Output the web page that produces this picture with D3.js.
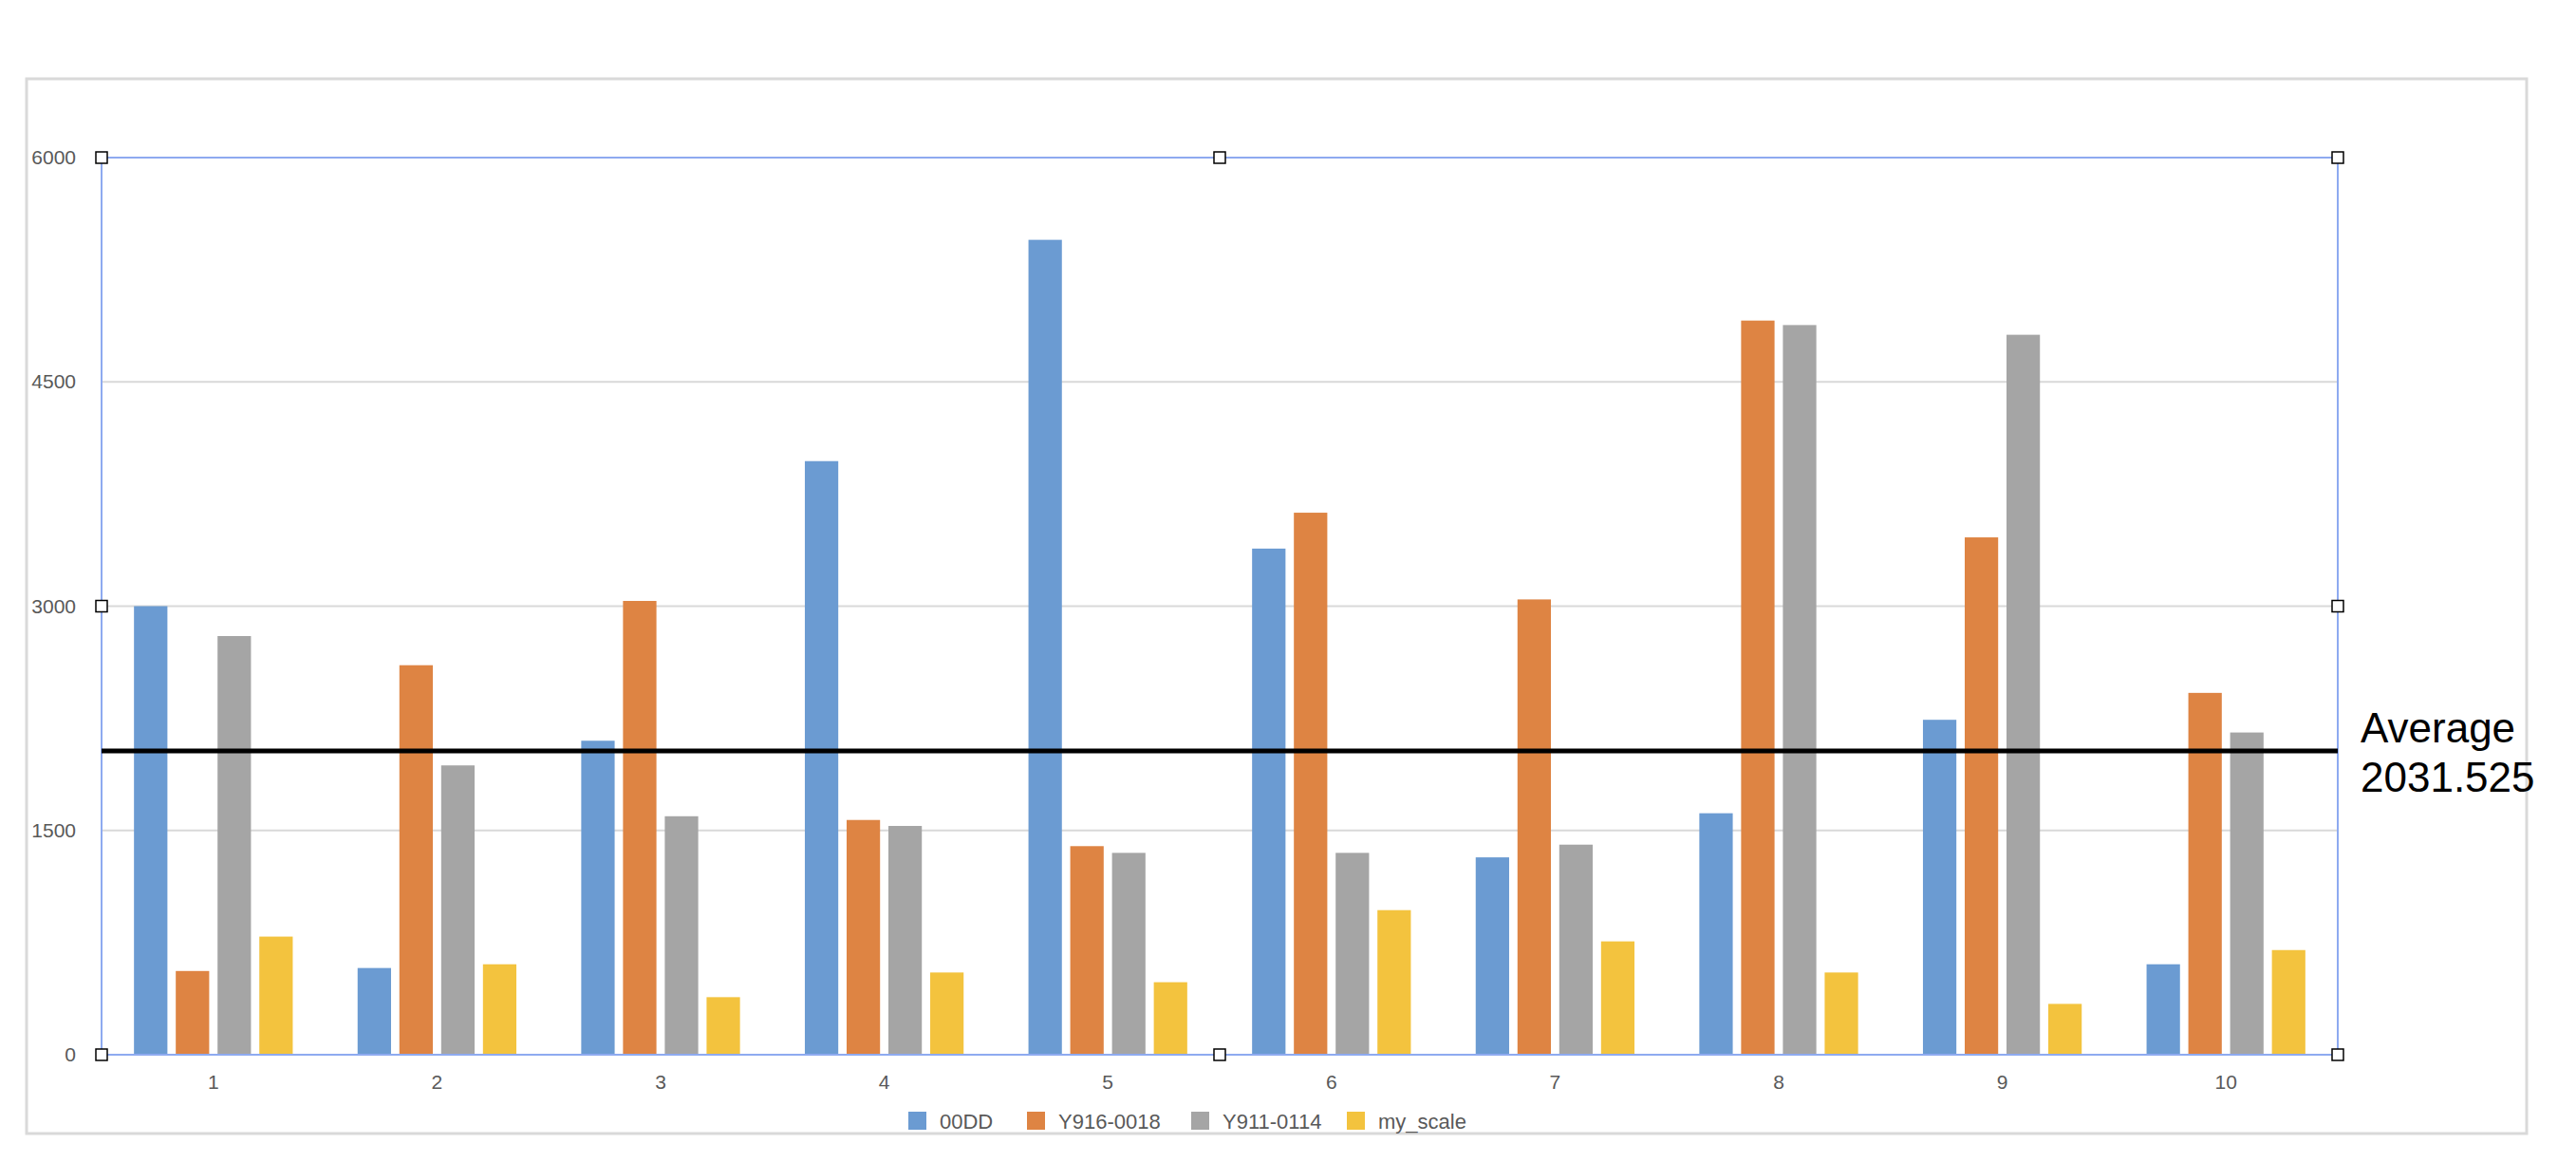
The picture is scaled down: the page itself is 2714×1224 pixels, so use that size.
<!DOCTYPE html>
<html>
<head>
<meta charset="utf-8">
<script src="https://cdn.jsdelivr.net/npm/d3@7"></script>
<style>
  body { margin: 0; background: #fff; }
  text { font-family: "Liberation Sans", Arial, sans-serif; }
</style>
</head>
<body>
<div id="canvas"></div>
<script>
/* DATA */
const categories = ["1", "2", "3", "4", "5", "6", "7", "8", "9", "10"];
const seriesNames = ["00DD", "Y916-0018", "Y911-0114", "my_scale"];
const s00DD = [3000, 580, 2100, 3970, 5450, 3385, 1320, 1615, 2240, 605];
const sY916 = [560, 2605, 3035, 1570, 1395, 3625, 3045, 4910, 3460, 2420];
const sY911 = [2800, 1935, 1595, 1530, 1350, 1350, 1405, 4880, 4815, 2155];
const sScale = [790, 605, 385, 550, 485, 967, 758, 550, 340, 700];
const yTicks = [0, 1500, 3000, 4500, 6000];
const average = 2031.525;
const colors = ["#6b9bd2", "#de8443", "#a5a5a5", "#f3c33e"];

const width = 2714, height = 1224;
const plotLeft = 107, plotRight = 2463, plotTop = 166, plotBottom = 1111;

const svg = d3.select("#canvas").append("svg")
    .attr("width", width).attr("height", height);

/* OUTER FRAME */
svg.append("rect")
    .attr("x", 28).attr("y", 83).attr("width", 2634).attr("height", 1111)
    .attr("fill", "none").attr("stroke", "#d9d9d9").attr("stroke-width", 3);

/* SCALES */
const x0 = d3.scaleBand().domain(categories).range([plotLeft, plotRight]).paddingInner(0.29).paddingOuter(0.145);
const x1 = d3.scaleBand().domain(seriesNames).range([0, x0.bandwidth()]).paddingInner(0.2);
const y = d3.scaleLinear().domain([0, 6000]).range([plotBottom, plotTop]);

/* GRID */
svg.append("g").selectAll("line").data(yTicks.slice(1)).join("line")
    .attr("x1", plotLeft).attr("x2", plotRight)
    .attr("y1", d => y(d)).attr("y2", d => y(d))
    .attr("stroke", "#d9d9d9").attr("stroke-width", 2);

/* Y LABELS */
svg.append("g").selectAll("text").data(yTicks).join("text")
    .attr("x", 80).attr("y", d => y(d) + 7)
    .attr("text-anchor", "end").attr("font-size", 21).attr("fill", "#595959")
    .text(d => d);

/* BARS */
const allSeries = [s00DD, sY916, sY911, sScale];
const groups = svg.append("g").selectAll("g").data(categories).join("g")
    .attr("transform", d => `translate(${x0(d)},0)`);
groups.selectAll("rect")
    .data((d, i) => seriesNames.map((s, j) => ({ s, j, v: allSeries[j][i] })))
    .join("rect")
    .attr("x", d => x1(d.s)).attr("width", x1.bandwidth())
    .attr("y", d => y(d.v)).attr("height", d => y(0) - y(d.v))
    .attr("fill", d => colors[d.j]);

/* PLOT AREA SELECTION BOX */
svg.append("rect")
    .attr("x", plotLeft).attr("y", plotTop).attr("width", plotRight - plotLeft).attr("height", plotBottom - plotTop)
    .attr("fill", "none").attr("stroke", "#8eaaf0").attr("stroke-width", 2);

/* X LABELS */
svg.append("g").selectAll("text").data(categories).join("text")
    .attr("x", d => x0(d) + x0.bandwidth() / 2).attr("y", plotBottom + 36)
    .attr("text-anchor", "middle").attr("font-size", 21).attr("fill", "#595959")
    .text(d => d);

/* AVERAGE LINE */
svg.append("line")
    .attr("x1", plotLeft).attr("x2", plotRight)
    .attr("y1", y(average)).attr("y2", y(average))
    .attr("stroke", "#000").attr("stroke-width", 5);
svg.append("text").attr("x", 2487).attr("y", 782)
    .attr("font-size", 44).attr("font-family", "Open Sans").text("Average");
svg.append("text").attr("x", 2487).attr("y", 834)
    .attr("font-size", 44).attr("font-family", "Open Sans").text(average);

/* HANDLES */
const midX = (plotLeft + plotRight) / 2, midY = (plotTop + plotBottom) / 2;
const handles = [[plotLeft, plotTop], [midX, plotTop], [plotRight, plotTop], [plotLeft, midY], [plotRight, midY],
                 [plotLeft, plotBottom], [midX, plotBottom], [plotRight, plotBottom]];
svg.append("g").selectAll("rect").data(handles).join("rect")
    .attr("x", d => d[0] - 6).attr("y", d => d[1] - 6)
    .attr("width", 12).attr("height", 12)
    .attr("fill", "#fff").attr("stroke", "#000").attr("stroke-width", 1.5);

/* LEGEND */
const legendX = [957, 1082, 1255, 1419];
const legend = svg.append("g").selectAll("g").data(seriesNames).join("g")
    .attr("transform", (d, i) => `translate(${legendX[i]},1171)`);
legend.append("rect").attr("width", 19).attr("height", 19).attr("fill", (d, i) => colors[i]);
legend.append("text").attr("x", 33).attr("y", 18)
    .attr("font-size", 22).attr("fill", "#595959").text(d => d);
</script>
</body>
</html>
